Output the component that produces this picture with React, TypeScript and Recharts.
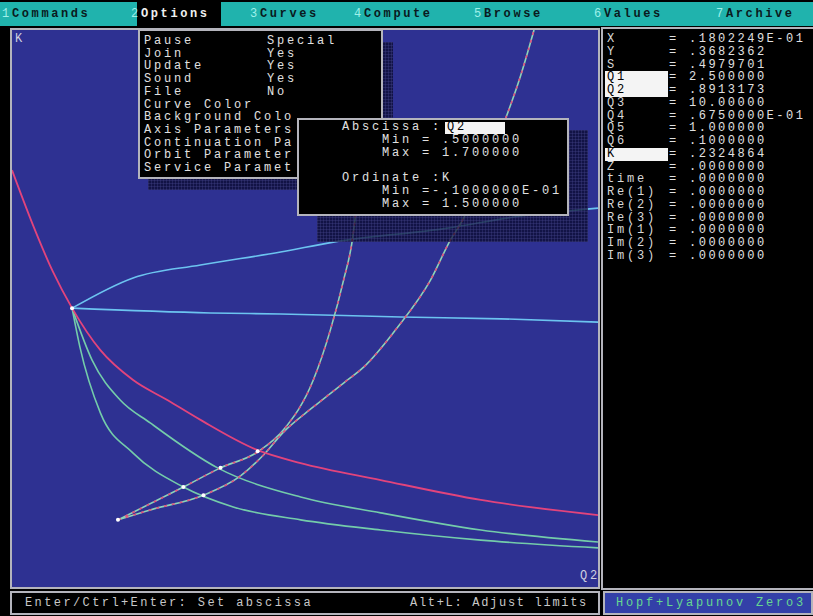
import React from 'react';
import { ComposedChart, Line, Scatter, XAxis, YAxis } from 'recharts';

// Continuation branches in the (Q2, K) plane
const redBranch = [
  { q2: 0.5, k: 1.12 }, { q2: 0.543, k: 0.971 }, { q2: 0.584, k: 0.844 }, { q2: 0.623, k: 0.746 },
  { q2: 0.681, k: 0.632 }, { q2: 0.748, k: 0.551 }, { q2: 0.818, k: 0.497 }, { q2: 0.886, k: 0.443 },
  { q2: 1.003, k: 0.361 }, { q2: 1.091, k: 0.326 }, { q2: 1.255, k: 0.28 }, { q2: 1.46, k: 0.226 },
  { q2: 1.7, k: 0.185 },
];

const upperCyan = [
  { q2: 0.623, k: 0.746 }, { q2: 0.748, k: 0.828 }, { q2: 0.886, k: 0.863 },
  { q2: 1.05, k: 0.898 }, { q2: 1.158, k: 0.925 }, { q2: 1.392, k: 0.963 }, { q2: 1.528, k: 0.993 },
  { q2: 1.7, k: 1.017 },
];

const flatCyan = [
  { q2: 0.623, k: 0.746 }, { q2: 0.906, k: 0.733 }, { q2: 1.05, k: 0.73 }, { q2: 1.296, k: 0.722 },
  { q2: 1.501, k: 0.717 }, { q2: 1.7, k: 0.708 },
];

const steepGreen = [
  { q2: 0.623, k: 0.746 }, { q2: 0.639, k: 0.641 }, { q2: 0.681, k: 0.462 }, { q2: 0.748, k: 0.353 },
  { q2: 0.851, k: 0.261 }, { q2: 0.953, k: 0.207 }, { q2: 1.091, k: 0.172 }, { q2: 1.255, k: 0.1445 },
  { q2: 1.46, k: 0.117 }, { q2: 1.7, k: 0.096 },
];

const softGreen = [
  { q2: 0.623, k: 0.746 }, { q2: 0.664, k: 0.605 }, { q2: 0.7215, k: 0.497 }, { q2: 0.783, k: 0.435 },
  { q2: 0.921, k: 0.313 }, { q2: 1.091, k: 0.234 }, { q2: 1.255, k: 0.191 }, { q2: 1.46, k: 0.1445 },
  { q2: 1.7, k: 0.112 },
];

const risingA = [
  { q2: 0.717, k: 0.172 }, { q2: 0.851, k: 0.261 }, { q2: 0.927, k: 0.313 }, { q2: 1.003, k: 0.356 },
  { q2: 1.056, k: 0.416 }, { q2: 1.117, k: 0.551 }, { q2: 1.152, k: 0.687 }, { q2: 1.179, k: 0.822 },
  { q2: 1.197, k: 0.931 }, { q2: 1.204, k: 1.004 }, { q2: 1.218, k: 1.175 }, { q2: 1.234, k: 1.364 },
  { q2: 1.247, k: 1.5 },
];

const risingB = [
  { q2: 0.717, k: 0.172 }, { q2: 0.783, k: 0.199 }, { q2: 0.892, k: 0.239 }, { q2: 0.968, k: 0.291 },
  { q2: 1.015, k: 0.348 }, { q2: 1.056, k: 0.41 }, { q2: 1.117, k: 0.478 }, { q2: 1.179, k: 0.543 },
  { q2: 1.22, k: 0.586 }, { q2: 1.29, k: 0.695 }, { q2: 1.357, k: 0.822 }, { q2: 1.398, k: 0.931 },
  { q2: 1.423, k: 0.985 }, { q2: 1.466, k: 1.12 }, { q2: 1.511, k: 1.261 }, { q2: 1.542, k: 1.378 },
  { q2: 1.569, k: 1.5 },
];

const specialPoints = [
  { q2: 0.623, k: 0.746 }, { q2: 0.717, k: 0.172 }, { q2: 0.892, k: 0.239 }, { q2: 0.851, k: 0.261 },
  { q2: 0.927, k: 0.313 }, { q2: 1.003, k: 0.358 },
];

const topMenu = [
  ['1', 'Commands'], ['2', 'Options'], ['3', 'Curves'], ['4', 'Compute'],
  ['5', 'Browse'], ['6', 'Values'], ['7', 'Archive'],
];
const topMenuX = [2, 131, 250, 354, 474, 594, 716];

// the axis dialog hides the tail of the lower entries
const optionRows = [
  ['Pause', 'Special'], ['Join', 'Yes'], ['Update', 'Yes'], ['Sound', 'Yes'], ['File', 'No'],
  ['Curve Color', ''], ['Background Colo', ''], ['Axis Parameters', ''],
  ['Continuation Pa', ''], ['Orbit Parameter', ''], ['Service Paramet', ''],
];

const axisRows = [
  'Abscissa :', '    Min = .5000000', '    Max = 1.700000', '',
  'Ordinate :K', '    Min =-.1000000E-01', '    Max = 1.500000',
];

const valueRows = [
  ['X', '.1802249E-01'], ['Y', '.3682362'], ['S', '.4979701'], ['Q1', '2.500000'],
  ['Q2', '.8913173'], ['Q3', '10.00000'], ['Q4', '.6750000E-01'], ['Q5', '1.000000'],
  ['Q6', '.1000000'], ['K', '.2324864'], ['Z', '.0000000'], ['time', '.0000000'],
  ['Re(1)', '.0000000'], ['Re(2)', '.0000000'], ['Re(3)', '.0000000'],
  ['Im(1)', '.0000000'], ['Im(2)', '.0000000'], ['Im(3)', '.0000000'],
];
const marked = ['Q1', 'Q2', 'K'];

const BLUE = '#2e3192';
const TEAL = '#20b3ad';
const GREY = '#b4b4bc';

const abs = (left: number, top: number, width?: number, height?: number): React.CSSProperties => ({
  position: 'absolute', left, top, width, height, boxSizing: 'border-box',
});

const shade: React.CSSProperties = {
  background: 'rgba(8,8,40,0.72)',
  backgroundImage:
    'repeating-linear-gradient(0deg, rgba(70,70,140,0.35) 0 1px, transparent 1px 3px), repeating-linear-gradient(90deg, rgba(70,70,140,0.35) 0 1px, transparent 1px 3px)',
};

const dot = (p: any) => <circle cx={p.cx} cy={p.cy} r={2} fill="#ffffff" />;

export default function App() {
  const line = (data: any[], stroke: string, extra: any = {}) => (
    <Line data={data} dataKey="k" type="monotoneX" stroke={stroke} strokeWidth={1.6}
      dot={false} activeDot={false} isAnimationActive={false} {...extra} />
  );

  return (
    <div style={{
      ...abs(0, 0, 813, 616), background: '#000', overflow: 'hidden',
      fontFamily: "'Liberation Mono', monospace", fontSize: 12, letterSpacing: '2.8px', color: '#e0e0e0',
    }}>
      {/* menu bar */}
      <div style={{ ...abs(0, 2, 813, 24), background: TEAL }} />
      {topMenu.map(([n, label], i) => (
        <React.Fragment key={label}>
          {label === 'Options' && <div style={{ ...abs(topMenuX[i] + 6, 2, 84, 24), background: '#000' }} />}
          <div style={{ ...abs(topMenuX[i], 7), color: '#9ff0ea', lineHeight: '14px' }}>{n}</div>
          <div style={{
            ...abs(topMenuX[i] + 10, 7), lineHeight: '14px', fontWeight: 'bold', letterSpacing: '2.6px',
            color: label === 'Options' ? '#f0f0f0' : '#0a1a20',
          }}>{label}</div>
        </React.Fragment>
      ))}

      {/* plot window */}
      <div style={{ ...abs(10, 28, 590, 561), border: `2px solid ${GREY}`, background: BLUE }} />
      <div style={{ ...abs(12, 30, 586, 557) }}>
        <ComposedChart width={586} height={557} margin={{ top: 0, right: 0, bottom: 0, left: 0 }}>
          <XAxis type="number" dataKey="q2" domain={[0.5, 1.7]} hide allowDataOverflow />
          <YAxis type="number" dataKey="k" domain={[-0.01, 1.5]} hide allowDataOverflow />
          {line(upperCyan, '#6cc4f0')}
          {line(flatCyan, '#6cc4f0')}
          {line(steepGreen, '#74ccaa')}
          {line(softGreen, '#74ccaa')}
          {line(risingA, '#8cd4b8')}
          {line(risingA, '#e2507e', { strokeDasharray: '3 5' })}
          {line(risingB, '#8cd4b8')}
          {line(risingB, '#e2507e', { strokeDasharray: '3 5' })}
          {line(redBranch, '#e2447c', { strokeWidth: 1.8 })}
          <Scatter data={specialPoints} dataKey="k" shape={dot} isAnimationActive={false} />
        </ComposedChart>
      </div>
      <div style={{ ...abs(15, 33), color: '#d0d0e0', lineHeight: '12px' }}>K</div>
      <div style={{ ...abs(580, 570), color: '#d0d0e0', lineHeight: '12px' }}>Q2</div>

      {/* values panel */}
      <div style={{ ...abs(601, 27, 212, 563), borderTop: `2px solid ${GREY}`, borderLeft: `2px solid ${GREY}`, borderBottom: `2px solid ${GREY}` }} />
      {valueRows.map(([name, val], i) => {
        const top = 33 + i * 12.75;
        const hl = marked.includes(name);
        return (
          <React.Fragment key={name}>
            {hl && <div style={{ ...abs(605, top, 63, 13), background: '#f4f4f4' }} />}
            <div style={{ ...abs(607, top), lineHeight: '13px', color: hl ? '#000' : '#d8d8d8' }}>{name}</div>
            <div style={{ ...abs(669, top), lineHeight: '13px' }}>=</div>
            <div style={{ ...abs(689, top), lineHeight: '13px', letterSpacing: '2.5px' }}>{val}</div>
          </React.Fragment>
        );
      })}

      {/* shadows under the pop-ups */}
      <div style={{ ...abs(148, 42, 245, 148), ...shade }} />
      <div style={{ ...abs(317, 130, 271, 112), ...shade }} />

      {/* options menu */}
      <div style={{ ...abs(138, 29, 245, 150), background: '#000', border: `2px solid ${GREY}`, overflow: 'hidden' }}>
        {optionRows.map(([a, b], i) => (
          <React.Fragment key={a}>
            <div style={{ ...abs(4, 4 + i * 12.7), lineHeight: '13px', whiteSpace: 'pre' }}>{a}</div>
            {b && <div style={{ ...abs(127, 4 + i * 12.7), lineHeight: '13px' }}>{b}</div>}
          </React.Fragment>
        ))}
      </div>

      {/* axis parameters dialog */}
      <div style={{ ...abs(297, 118, 272, 98), background: '#000', border: `2px solid ${GREY}` }} />
      <div style={{ ...abs(445, 122, 60, 12), background: '#f4f4f4' }} />
      <div style={{ ...abs(447, 121), lineHeight: '13px', color: '#000' }}>Q2</div>
      {axisRows.map((r, i) => (
        <div key={i} style={{ ...abs(342, 121 + i * 12.8), lineHeight: '13px', whiteSpace: 'pre' }}>{r}</div>
      ))}

      {/* status line */}
      <div style={{ ...abs(10, 591, 590, 24), border: `2px solid ${GREY}` }} />
      <div style={{ ...abs(25, 596), lineHeight: '14px', color: '#c8c8c8', letterSpacing: '2.4px' }}>Enter/Ctrl+Enter: Set abscissa</div>
      <div style={{ ...abs(410, 596), lineHeight: '14px', color: '#c8c8c8', letterSpacing: '1.7px' }}>Alt+L: Adjust limits</div>
      <div style={{ ...abs(603, 591, 210, 24), background: '#3340a8', border: `2px solid ${GREY}` }} />
      <div style={{ ...abs(616, 596), lineHeight: '14px', color: '#66d890', letterSpacing: '2.8px' }}>Hopf+Lyapunov Zero3</div>
    </div>
  );
}
